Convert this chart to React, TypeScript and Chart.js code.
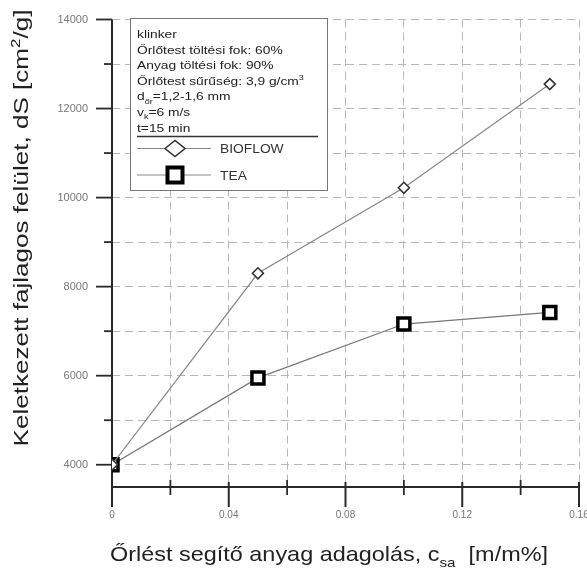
import React, { useEffect, useRef } from 'react';
import { Chart, registerables } from 'chart.js';
Chart.register(...registerables);

const FAMILY = '"Liberation Sans", Arial, Helvetica, sans-serif';

// ---- data ----
const xValues = [0, 0.05, 0.1, 0.15];
const bioflowValues = [4000, 8300, 10220, 12550];
const teaValues = [4000, 5950, 7160, 7420];
const seriesNames = ['BIOFLOW', 'TEA'];
const xTickLabels = ['0', '0.04', '0.08', '0.12', '0.16'];
const yTickLabels = ['4000', '6000', '8000', '10000', '12000', '14000'];
const yMinorStep = 1000;

type Part = { t: string; sub?: boolean; sup?: boolean };
const yTitleParts: Part[] = [{ t: 'Keletkezett fajlagos felület, dS [cm' }, { t: '2', sup: true }, { t: '/g]' }];
const xTitleParts: Part[] = [{ t: 'Őrlést segítő anyag adagolás, c' }, { t: 'sa', sub: true }, { t: '  [m/m%]' }];
const infoLines: Part[][] = [
  [{ t: 'klinker' }],
  [{ t: 'Őrlőtest töltési fok: 60%' }],
  [{ t: 'Anyag töltési fok: 90%' }],
  [{ t: 'Őrlőtest sűrűség: 3,9 g/cm' }, { t: '3', sup: true }],
  [{ t: 'd' }, { t: 'őr', sub: true }, { t: '=1,2-1,6 mm' }],
  [{ t: 'v' }, { t: 'k', sub: true }, { t: '=6 m/s' }],
  [{ t: 't=15 min' }],
];

function measureParts(ctx: CanvasRenderingContext2D, parts: Part[], size: number) {
  let w = 0;
  for (const p of parts) {
    const fs = p.sub || p.sup ? size * 0.65 : size;
    ctx.font = `${fs}px ${FAMILY}`;
    w += ctx.measureText(p.t).width;
  }
  return w;
}

function drawParts(ctx: CanvasRenderingContext2D, parts: Part[], x: number, y: number, size: number, sx: number, color: string) {
  ctx.save();
  ctx.translate(x, y);
  ctx.scale(sx, 1);
  ctx.fillStyle = color;
  ctx.textAlign = 'left';
  let cx = 0;
  for (const p of parts) {
    const fs = p.sub || p.sup ? size * 0.65 : size;
    ctx.font = `${fs}px ${FAMILY}`;
    const dy = p.sub ? size * 0.28 : p.sup ? -size * 0.38 : 0;
    ctx.fillText(p.t, cx, dy);
    cx += ctx.measureText(p.t).width;
  }
  ctx.restore();
}

const isMajorX = (v: number) => Math.round(v * 100) % 4 === 0;
const isMajorY = (v: number) => Math.round(v) % 2000 === 0;

const decorPlugin = {
  id: 'decor',
  beforeDatasetsDraw(chart: any) {
    const { ctx, chartArea: a, scales } = chart;
    const x = scales.x, y = scales.y;
    ctx.save();
    ctx.strokeStyle = '#2a2a2a';
    ctx.lineCap = 'butt';
    const line = (x1: number, y1: number, x2: number, y2: number, w: number) => {
      ctx.lineWidth = w;
      ctx.beginPath();
      ctx.moveTo(x1, y1);
      ctx.lineTo(x2, y2);
      ctx.stroke();
    };
    // axis lines
    line(a.left, a.top, a.left, a.bottom + 1, 2);
    line(a.left - 1, a.bottom, a.right, a.bottom, 2.2);
    // y ticks
    y.ticks.forEach((t: any) => {
      const py = y.getPixelForValue(t.value);
      const major = isMajorY(t.value);
      line(a.left - (major ? 16 : 8), py, a.left, py, 1.8);
    });
    // x ticks
    x.ticks.forEach((t: any) => {
      const px = x.getPixelForValue(t.value);
      const major = isMajorX(t.value);
      if (major) line(px, a.bottom - 5, px, a.bottom + 20, 2);
      else line(px, a.bottom - 7, px, a.bottom + 8, 1.8);
    });
    ctx.restore();
  },
  afterDraw(chart: any) {
    const { ctx, chartArea: a } = chart;
    ctx.save();
    ctx.textBaseline = 'alphabetic';
    // y title
    {
      const size = 20;
      const w = measureParts(ctx, yTitleParts, size);
      const sx = 437 / w;
      ctx.save();
      ctx.translate(28, 228);
      ctx.rotate(-Math.PI / 2);
      drawParts(ctx, yTitleParts, -218.5, 0, size, sx, '#222');
      ctx.restore();
    }
    // x title
    {
      const size = 21;
      const w = measureParts(ctx, xTitleParts, size);
      const sx = 438 / w;
      drawParts(ctx, xTitleParts, a.left - 2, 561, size, sx, '#222');
    }
    // legend box
    const bx = 130, by = 18, bw = 197, bh = 172;
    ctx.fillStyle = '#fff';
    ctx.fillRect(bx, by, bw, bh);
    ctx.strokeStyle = '#777';
    ctx.lineWidth = 1;
    ctx.strokeRect(bx + 0.5, by + 0.5, bw, bh);
    infoLines.forEach((parts, i) => {
      drawParts(ctx, parts, 137, 38 + i * 15.6, 11.5, 1.2, '#222');
    });
    ctx.strokeStyle = '#333';
    ctx.lineWidth = 1.5;
    ctx.beginPath();
    ctx.moveTo(137, 136.5);
    ctx.lineTo(318, 136.5);
    ctx.stroke();
    // legend entries
    const rows = [148.5, 175];
    rows.forEach((ry, i) => {
      ctx.strokeStyle = '#888';
      ctx.lineWidth = 1;
      ctx.beginPath();
      ctx.moveTo(137, ry);
      ctx.lineTo(211, ry);
      ctx.stroke();
      const cx = 175;
      ctx.fillStyle = '#fff';
      if (i === 0) {
        ctx.strokeStyle = '#333';
        ctx.lineWidth = 1.6;
        ctx.beginPath();
        ctx.moveTo(cx - 10, ry);
        ctx.lineTo(cx, ry - 8);
        ctx.lineTo(cx + 10, ry);
        ctx.lineTo(cx, ry + 8);
        ctx.closePath();
        ctx.fill();
        ctx.stroke();
      } else {
        ctx.strokeStyle = '#000';
        ctx.lineWidth = 4;
        ctx.fillRect(cx - 7.5, ry - 7.5, 15, 15);
        ctx.strokeRect(cx - 7.5, ry - 7.5, 15, 15);
      }
      drawParts(ctx, [{ t: seriesNames[i] }], 220, ry + 4.5, 12, 1.15, '#333');
    });
    ctx.restore();
  },
};

export default function App() {
  const ref = useRef<HTMLCanvasElement>(null);
  useEffect(() => {
    if (!ref.current) return;
    const yFirst = Number(yTickLabels[0]);
    const yLast = Number(yTickLabels[yTickLabels.length - 1]);
    const chart = new Chart(ref.current, {
      type: 'line',
      data: {
        datasets: [
          {
            label: seriesNames[0],
            data: xValues.map((x, i) => ({ x, y: bioflowValues[i] })),
            borderColor: '#888',
            borderWidth: 1.2,
            pointStyle: 'rectRot',
            pointRadius: 5.5,
            pointBorderWidth: 1.6,
            pointBorderColor: '#333',
            pointBackgroundColor: '#fff',
            tension: 0,
          },
          {
            label: seriesNames[1],
            data: xValues.map((x, i) => ({ x, y: teaValues[i] })),
            borderColor: '#777',
            borderWidth: 1.2,
            pointStyle: 'rect',
            pointRadius: 8.5,
            pointBorderWidth: 3.5,
            pointBorderColor: '#000',
            pointBackgroundColor: '#fff',
            tension: 0,
          },
        ],
      },
      options: {
        animation: false,
        responsive: false,
        layout: { autoPadding: false, padding: { top: 19.5, right: 8, left: 0, bottom: 0 } },
        plugins: { legend: { display: false }, tooltip: { enabled: false } },
        scales: {
          x: {
            type: 'linear',
            min: 0,
            max: 0.16,
            afterFit: (s: any) => {
              s.height = 81;
              s.paddingLeft = 0;
              s.paddingRight = 0;
            },
            ticks: {
              stepSize: 0.02,
              autoSkip: false,
              maxRotation: 0,
              minRotation: 0,
              padding: 22,
              color: '#777',
              font: { size: 10, family: FAMILY },
              callback: (v: any) => {
                const lab = xTickLabels.find((l) => Math.abs(Number(l) - Number(v)) < 1e-6);
                return lab ?? '';
              },
            },
            grid: { color: '#b8b8b8', lineWidth: 1, drawTicks: false },
            border: { display: false, dash: [8, 5] },
          },
          y: {
            type: 'linear',
            min: 3500,
            max: 14000,
            afterBuildTicks: (s: any) => {
              const t: any[] = [];
              for (let v = yFirst; v <= yLast; v += yMinorStep) t.push({ value: v });
              s.ticks = t;
            },
            afterFit: (s: any) => {
              s.width = 112;
              s.paddingTop = 0;
              s.paddingBottom = 0;
            },
            ticks: {
              autoSkip: false,
              padding: 24,
              color: '#777',
              font: { size: 11, family: FAMILY },
              callback: (v: any) => {
                const lab = yTickLabels.find((l) => Math.abs(Number(l) - Number(v)) < 1e-6);
                return lab ?? '';
              },
            },
            grid: { color: '#b8b8b8', lineWidth: 1, drawTicks: false },
            border: { display: false, dash: [8, 5] },
          },
        },
      },
      plugins: [decorPlugin],
    } as any);
    return () => chart.destroy();
  }, []);
  return (
    <div style={{ position: 'absolute', left: 0, top: 0, width: 587, height: 568, background: '#fff' }}>
      <canvas ref={ref} width={587} height={568} style={{ display: 'block' }} />
    </div>
  );
}
